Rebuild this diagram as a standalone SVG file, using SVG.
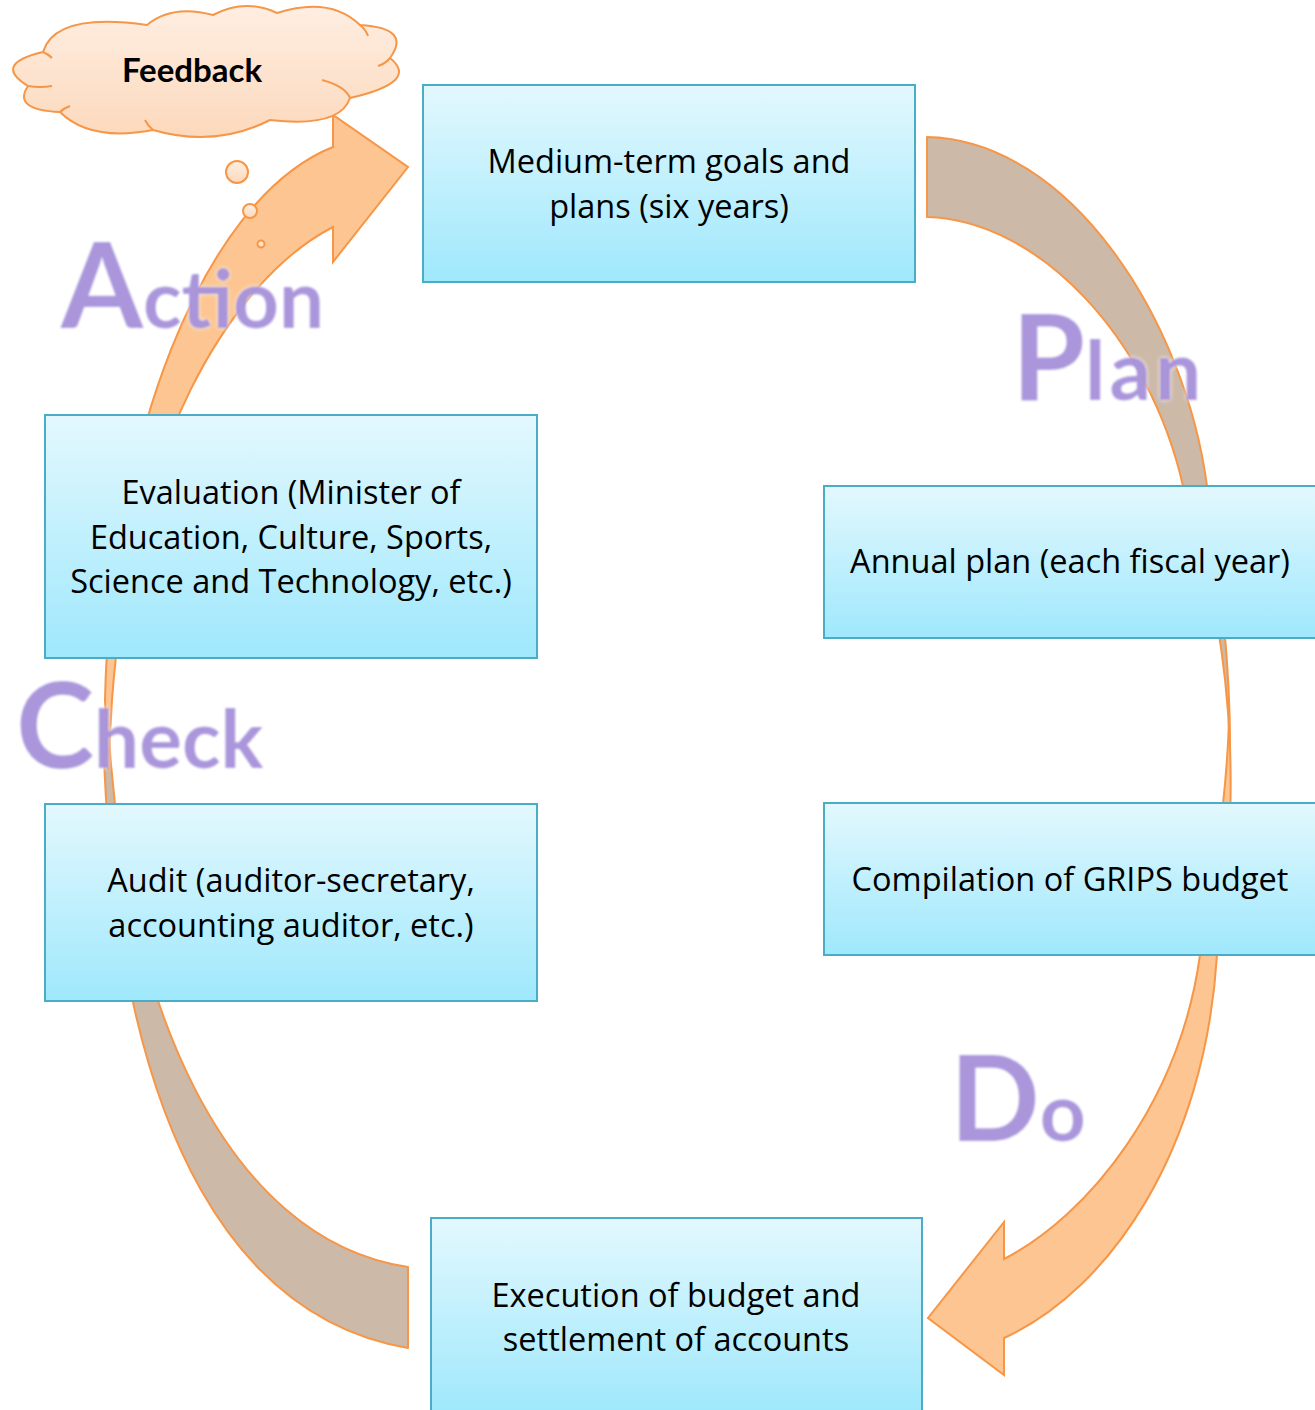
<svg xmlns="http://www.w3.org/2000/svg" width="1315" height="1410" viewBox="0 0 1315 1410">
<defs>
<linearGradient id="boxGrad" x1="0" y1="0" x2="0" y2="1">
<stop offset="0" stop-color="#E3F8FE"/>
<stop offset="1" stop-color="#9FE8FC"/>
</linearGradient>
<linearGradient id="cloudGrad" x1="0" y1="0" x2="0" y2="1">
<stop offset="0" stop-color="#FEEEE2"/>
<stop offset="1" stop-color="#FCD9BC"/>
</linearGradient>
<filter id="glow" x="-10%" y="-10%" width="120%" height="120%">
<feGaussianBlur in="SourceAlpha" stdDeviation="2" result="b"/>
<feFlood flood-color="#FFFFFF"/>
<feComposite in2="b" operator="in" result="w"/>
<feGaussianBlur in="SourceGraphic" stdDeviation="0.8" result="s"/>
<feMerge><feMergeNode in="w"/><feMergeNode in="s"/></feMerge>
</filter>
</defs>
<style>
.box{fill:url(#boxGrad);stroke:#4BACC6;stroke-width:2}
.txt{font-family:"Open Sans","Liberation Sans",sans-serif;font-size:32.5px;fill:#000;text-anchor:middle}
.fb{font-family:Lato,"Open Sans","Liberation Sans",sans-serif;font-weight:700;font-size:33px;fill:#000;text-anchor:middle}
.tan{fill:#CDB9A8;stroke:#F79646;stroke-width:2;stroke-linejoin:round}
.peach{fill:#FCC591;stroke:#F79646;stroke-width:2;stroke-linejoin:miter}
.big{font-family:Lato,"Open Sans","Liberation Sans",sans-serif;font-weight:700;fill:#9B7FD6;fill-opacity:0.88}
.bubble{fill:url(#cloudGrad);stroke:#F79646;stroke-width:2}
</style>

<g id="connectors">
<path id="arrow-plan" class="tan" d="M927,137 C1070,140 1185,320 1207,486 C1218,570 1230,650 1230,745 C1226,660 1215,590 1183,486 C1150,340 1040,220 927,217 Z"/>
<path id="arrow-do" class="peach" d="M1229,720 C1233,800 1230,880 1217,955 C1205,1150 1110,1290 1004,1338 L1004,1375 L928,1318 L1004,1222 L1004,1259 C1090,1215 1180,1100 1200,955 C1216,870 1227,790 1229,720 Z"/>
<path id="arrow-check" class="tan" d="M108,720 C122,1000 225,1240 408,1267 L408,1348 C245,1320 120,1150 104,760 Z"/>
<path id="arrow-action" class="peach" d="M108,770 L105,700 C110,450 200,200 333,147 L333,115 L408,167 L333,262 L333,227 C230,280 130,450 112,700 Z"/>
</g>

<g id="node-feedback">
<path class="bubble" d="M43,52 Q55,12 147,25 Q172,4 213,15 Q245,-2 277,13 Q330,-4 360,25 Q412,28 390,58 Q420,82 350,98 Q340,128 270,120 Q215,148 153,130 Q90,142 60,112 Q12,110 28,86 Q-8,64 43,52 Z"/>
<path d="M43,52 Q48,54 52,58 M360,25 Q366,30 368,36 M390,58 Q385,64 378,66 M350,98 Q345,86 322,80 M153,130 Q148,126 145,120 M60,112 Q64,108 70,106 M28,86 Q40,88 52,86" fill="none" stroke="#F79646" stroke-width="2"/>
<circle class="bubble" cx="237" cy="172" r="11"/>
<circle class="bubble" cx="250" cy="211" r="7"/>
<circle class="bubble" cx="261" cy="244" r="3.5" stroke-width="1.5"/>
<text x="192" y="82" class="fb">Feedback</text>
</g>

<g id="node-medium">
<rect class="box" x="423" y="85" width="492" height="197"/>
<text class="txt" x="669" y="173">Medium-term goals and</text>
<text class="txt" x="669" y="218">plans (six years)</text>
</g>
<g id="node-annual">
<rect class="box" x="824" y="486" width="492" height="152"/>
<text class="txt" x="1070" y="573">Annual plan (each fiscal year)</text>
</g>
<g id="node-compilation">
<rect class="box" x="824" y="803" width="492" height="152"/>
<text class="txt" x="1070" y="891">Compilation of GRIPS budget</text>
</g>
<g id="node-execution">
<rect class="box" x="431" y="1218" width="491" height="195"/>
<text class="txt" x="676" y="1307">Execution of budget and</text>
<text class="txt" x="676" y="1351">settlement of accounts</text>
</g>
<g id="node-audit">
<rect class="box" x="45" y="804" width="492" height="197"/>
<text class="txt" x="291" y="892">Audit (auditor-secretary,</text>
<text class="txt" x="291" y="937">accounting auditor, etc.)</text>
</g>
<g id="node-evaluation">
<rect class="box" x="45" y="415" width="492" height="243"/>
<text class="txt" x="291" y="504">Evaluation (Minister of</text>
<text class="txt" x="291" y="549">Education, Culture, Sports,</text>
<text class="txt" x="291" y="593">Science and Technology, etc.)</text>
</g>

<g id="labels" filter="url(#glow)">
<text class="big" x="61" y="328"><tspan font-size="118">A</tspan><tspan font-size="80">ction</tspan></text>
<text class="big" x="1012" y="400"><tspan font-size="118">P</tspan><tspan font-size="82" letter-spacing="4">lan</tspan></text>
<text class="big" x="950" y="1141"><tspan font-size="118">D</tspan><tspan font-size="80">o</tspan></text>
<text class="big" x="16" y="768"><tspan font-size="118">C</tspan><tspan font-size="80">heck</tspan></text>
</g>
</svg>
